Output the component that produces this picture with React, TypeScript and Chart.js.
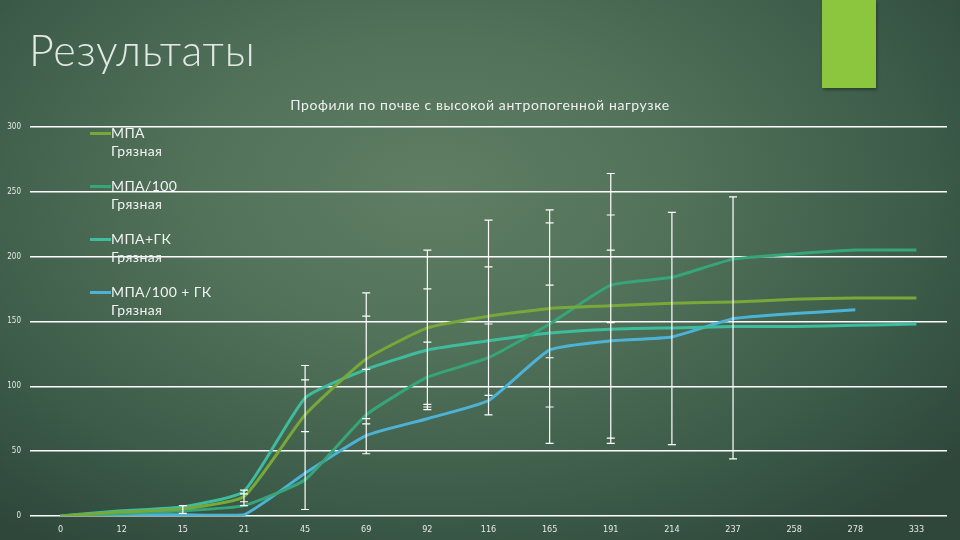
import React, { useEffect, useRef } from "react";
import { Chart, registerables } from "chart.js";

Chart.register(...registerables);

// time points (x categories)
const categories = ["0", "12", "15", "21", "45", "69", "92", "116", "165", "191", "214", "237", "258", "278", "333"];

// series values
const mpa = [0, 3, 5.5, 15, 78, 121, 145, 154, 160, 162, 164, 165, 167, 168, 168];
const mpa100 = [0, 2, 4, 8, 28, 78, 107, 122, 148, 178, 184, 198, 202, 205, 205];
const mpaGk = [0, 4, 7, 19, 91, 113, 128, 135, 141, 144, 145, 146, 146, 147, 148];
const mpa100Gk = [0, 1, 1, 1, 33, 62, 75, 89, 128, 135, 138, 152, 156, 159, null];

// error bar caps per category (line spans min..max)
const errorCaps: number[][] = [
  [],
  [],
  [2, 8],
  [8, 11, 17, 20],
  [5, 65, 105, 116],
  [48, 71, 75, 113, 154, 172],
  [82, 84, 86, 134, 175, 205],
  [78, 93, 148, 192, 228],
  [56, 84, 122, 178, 226, 236],
  [56, 60, 149, 205, 232, 264],
  [55, 234],
  [44, 246],
  [],
  [],
  [],
];

const yTicks = [0, 50, 100, 150, 200, 250, 300];

const series = [
  { label: "МПА", sub: "Грязная", data: mpa, color: "#78a83a" },
  { label: "МПА/100", sub: "Грязная", data: mpa100, color: "#36a57a" },
  { label: "МПА+ГК", sub: "Грязная", data: mpaGk, color: "#3ebd9e" },
  { label: "МПА/100 + ГК", sub: "Грязная", data: mpa100Gk, color: "#4db3d6" },
];

const errorBarPlugin = {
  id: "errorBars",
  afterDatasetsDraw(chart: any) {
    const { ctx, scales } = chart;
    const x = scales.x;
    const y = scales.y;
    ctx.save();
    ctx.strokeStyle = "#ffffff";
    ctx.lineWidth = 1.2;
    errorCaps.forEach((caps, i) => {
      if (!caps.length) return;
      const px = x.getPixelForValue(i);
      const lo = y.getPixelForValue(Math.min(...caps));
      const hi = y.getPixelForValue(Math.max(...caps));
      ctx.beginPath();
      ctx.moveTo(px, lo);
      ctx.lineTo(px, hi);
      caps.forEach((c) => {
        const py = y.getPixelForValue(c);
        ctx.moveTo(px - 4, py);
        ctx.lineTo(px + 4, py);
      });
      ctx.stroke();
    });
    ctx.restore();
  },
};

const App: React.FC = () => {
  const chartRef = useRef<HTMLCanvasElement>(null);
  const chartInstance = useRef<Chart | null>(null);

  useEffect(() => {
    document.body.style.margin = "0";
    if (!chartRef.current) return;
    const ctx = chartRef.current.getContext("2d");
    if (!ctx) return;
    chartInstance.current = new Chart(ctx, {
      type: "line",
      data: {
        labels: categories,
        datasets: series.map((s) => ({
          label: s.label,
          data: s.data,
          borderColor: s.color,
          backgroundColor: s.color,
          borderWidth: 3,
          pointRadius: 0,
          tension: 0.15,
          spanGaps: false,
        })),
      },
      options: {
        animation: false,
        responsive: true,
        maintainAspectRatio: false,
        layout: { padding: { top: 0, right: 13, left: 0, bottom: 0 } },
        plugins: {
          legend: { display: false },
          tooltip: { enabled: false },
          title: { display: false },
        },
        scales: {
          x: {
            offset: true,
            grid: { display: false },
            border: { display: false },
            ticks: {
              color: "#e8e8e8",
              font: { family: "'DejaVu Sans Condensed', 'DejaVu Sans'", size: 9 },
              padding: 0,
              maxRotation: 0,
              autoSkip: false,
            },
            afterFit: (scale: any) => {
              scale.height = 24;
            },
          },
          y: {
            min: 0,
            max: 300,
            afterBuildTicks: (scale: any) => {
              scale.ticks = yTicks.map((v) => ({ value: v }));
            },
            grid: { color: "#ffffff", lineWidth: 1.4, drawTicks: false },
            border: { display: false },
            ticks: {
              color: "#e8e8e8",
              font: { family: "'DejaVu Sans Condensed', 'DejaVu Sans'", size: 8 },
              padding: 9,
            },
            afterFit: (scale: any) => {
              scale.width = 30;
            },
          },
        },
      },
      plugins: [errorBarPlugin],
    });
    return () => {
      if (chartInstance.current) {
        chartInstance.current.destroy();
        chartInstance.current = null;
      }
    };
  }, []);

  return (
    <div
      style={{
        position: "fixed",
        left: 0,
        top: 0,
        width: 960,
        height: 540,
        overflow: "hidden",
        background:
          "radial-gradient(ellipse 70% 80% at 45% 35%, #5f7e63 0%, #52725a 35%, #3e5e4b 70%, #2e473a 100%)",
        fontFamily: "Lato, 'DejaVu Sans', sans-serif",
      }}
    >
      {/* accent block top right */}
      <div
        style={{
          position: "absolute",
          left: 822,
          top: 0,
          width: 54,
          height: 88,
          background: "#8cc63f",
          boxShadow: "1px 2px 3px rgba(0,0,0,0.35)",
        }}
      />
      <div
        style={{
          position: "absolute",
          left: 29,
          top: 28,
          fontSize: 43,
          lineHeight: 1,
          color: "#e4e8e4",
          fontWeight: 300,
          letterSpacing: 0.8,
        }}
      >
        Результаты
      </div>
      <div
        style={{
          position: "absolute",
          left: 0,
          width: 960,
          top: 96,
          textAlign: "center",
          fontSize: 14,
          letterSpacing: 0.6,
          color: "#f0f0f0",
        }}
      >
        Профили по почве с высокой антропогенной нагрузке
      </div>
      <div style={{ position: "absolute", left: 0, top: 113, width: 960, height: 427 }}>
        <canvas ref={chartRef}></canvas>
      </div>
      {/* legend */}
      <div style={{ position: "absolute", left: 90, top: 124 }}>
        {series.map((s, i) => (
          <div key={i} style={{ display: "flex", alignItems: "flex-start", height: 53 }}>
            <span
              style={{
                display: "inline-block",
                width: 21,
                height: 3,
                marginTop: 8,
                background: s.color,
              }}
            ></span>
            <div style={{ color: "#f2f2f2", fontSize: 14, lineHeight: "18px", letterSpacing: 0.4 }}>
              <div>{s.label}</div>
              <div>{s.sub}</div>
            </div>
          </div>
        ))}
      </div>
    </div>
  );
};

export default App;
